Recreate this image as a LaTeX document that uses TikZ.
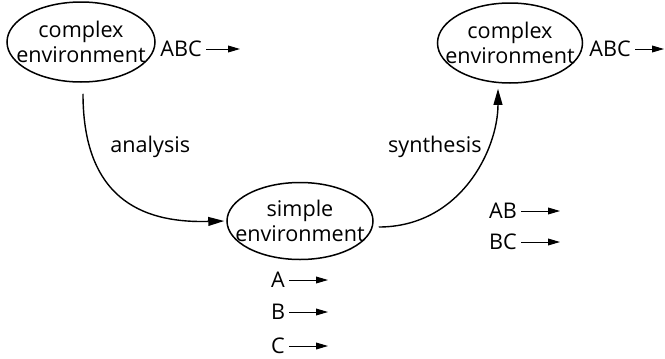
\documentclass[tikz,border=0pt]{standalone}
\usepackage{fontspec}
\setmainfont{Open Sans}
\usepackage{tikz}
\usetikzlibrary{positioning,arrows.meta,shapes.geometric}

\begin{document}
\begin{tikzpicture}[
x=0.5pt, y=-0.5pt,
env/.style={draw, ellipse, line width=0.75pt, inner xsep=-8pt, inner ysep=1pt, align=center, font=\fontsize{10.8}{12.5}\selectfont},
tag/.style={inner sep=2pt, font=\fontsize{10.8}{12.5}\selectfont},
flow/.style={-{Triangle[length=8pt,width=4.4pt]}, line width=0.7pt},
outarrow/.style={-{Triangle[length=6pt,width=3.4pt]}, line width=0.5pt}
]
\useasboundingbox (0,0) rectangle (665,359);
\node[env, minimum width=74pt, minimum height=40pt] (cplx1) at (81,42) {complex\\environment};
\node[env, minimum width=72.5pt, minimum height=40pt] (cplx2) at (510,43) {complex\\environment};
\node[env, minimum width=73pt, minimum height=38.5pt] (simple) at (300,221) {simple\\environment};

\node[tag] (abc1) at (181,49) {ABC};
\node[tag] (abc2) at (610,49) {ABC};
\node[tag] (a) at (278,280) {A};
\node[tag] (b) at (278,312) {B};
\node[tag] (c) at (278,346) {C};
\node[tag] (ab) at (503,211) {AB};
\node[tag] (bc) at (503,242) {BC};
\coordinate (abc1end) at (240,48);
\coordinate (abc2end) at (664,48);
\coordinate (singleend) at (328,278);
\coordinate (pairend) at (560,210);

\node[tag, inner sep=0pt, anchor=base west] (analysis) at (110,152) {analysis};
\node[tag, inner sep=0pt, anchor=base east] (synthesis) at (482,152) {synthesis};

% analysis and synthesis
\draw[flow] ([xshift=1pt,yshift=-5.5pt]cplx1.south) .. controls (83,205) and (150,223) .. ([xshift=-1pt]simple.west);
\draw[flow] ([xshift=2.5pt,yshift=-3pt]simple.east) .. controls (460,227) and (498,150) .. ([xshift=-6pt,yshift=-2.5pt]cplx2.south);

% outputs
\draw[outarrow] (abc1) -- (abc1 -| abc1end);
\draw[outarrow] (abc2) -- (abc2 -| abc2end);
\draw[outarrow] (a) -- (a -| singleend);
\draw[outarrow] (b) -- (b -| singleend);
\draw[outarrow] (c) -- (c -| singleend);
\draw[outarrow] (ab) -- (ab -| pairend);
\draw[outarrow] (bc) -- (bc -| pairend);
\end{tikzpicture}
\end{document}
